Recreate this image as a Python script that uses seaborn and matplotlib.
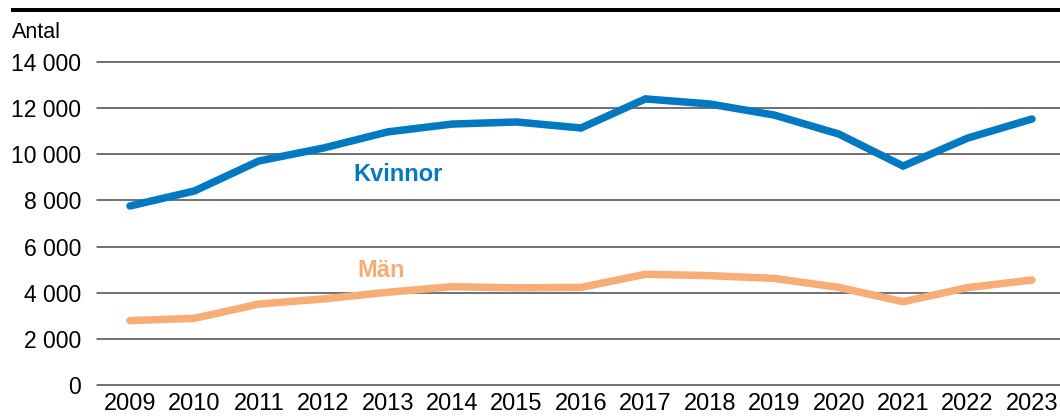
import matplotlib
matplotlib.use("Agg")
import matplotlib.pyplot as plt
from matplotlib.patches import Rectangle
import seaborn as sns
import pandas as pd

years = list(range(2009, 2024))
kvinnor = [7760, 8410, 9710, 10270, 10970, 11310, 11400, 11140, 12400, 12180, 11700, 10880, 9490, 10700, 11530]
man = [2790, 2890, 3510, 3730, 4020, 4260, 4210, 4230, 4800, 4740, 4620, 4230, 3610, 4220, 4550]
yticks = [0, 2000, 4000, 6000, 8000, 10000, 12000, 14000]

colors = {"Kvinnor": "#0079C1", "Män": "#F8AC76"}

df = pd.DataFrame({
    "År": years * 2,
    "Antal": kvinnor + man,
    "Kön": ["Kvinnor"] * len(years) + ["Män"] * len(years),
})

sns.set_style("white")
plt.rcParams["font.family"] = ["Liberation Sans", "DejaVu Sans"]

fig = plt.figure(figsize=(10.60, 4.19), dpi=100)
ax = fig.add_axes([97 / 1060, 1 - 385 / 419, 1 - 97 / 1060, (385 - 62) / 419])

sns.lineplot(data=df, x="År", y="Antal", hue="Kön", palette=colors,
             linewidth=5.4, ax=ax, legend=False, solid_capstyle="round",
             solid_joinstyle="miter", zorder=3)

ax.set_xlim(2008.488, 2023.435)
ax.set_ylim(0, 14000)
ax.set_yticks(yticks)
ax.set_yticklabels([f"{v:,}".replace(",", " ") for v in yticks])
ax.set_xticks(years)
ax.set_xticklabels([str(y) for y in years])
ax.tick_params(axis="both", length=0, colors="black")
ax.tick_params(axis="y", pad=11.5, labelsize=16.5)
ax.tick_params(axis="x", pad=6, labelsize=17)
ax.set_xlabel("")
ax.set_ylabel("")

for v in yticks:
    ax.axhline(v, color="#4a4a4a", linewidth=1.1, zorder=1, clip_on=False)

for s in ax.spines.values():
    s.set_visible(False)

# Series names placed directly beside the lines
ax.text(2013.16, 9120, "Kvinnor", color=colors["Kvinnor"], fontsize=17,
        fontweight="bold", ha="center", va="center")
ax.text(2012.9, 4970, "Män", color=colors["Män"], fontsize=17,
        fontweight="bold", ha="center", va="center")

fig.text(12 / 1060, 1 - 32 / 419, "Antal", fontsize=15.5, ha="left", va="center",
         color="black")
fig.patches.append(Rectangle((11 / 1060, 1 - 12 / 419), 1 - 11 / 1060, 4 / 419,
                             transform=fig.transFigure, facecolor="black",
                             edgecolor="none"))

fig.savefig("out.png", dpi=100, facecolor="white")
